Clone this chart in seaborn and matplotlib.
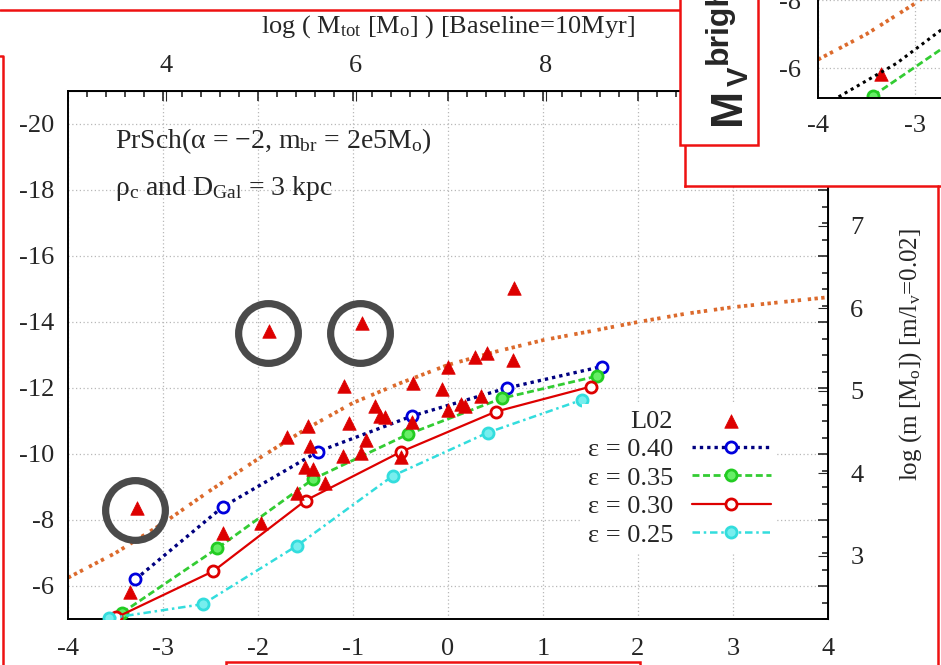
import matplotlib
matplotlib.use("Agg")
import matplotlib.pyplot as plt
import seaborn as sns
import numpy as np
from matplotlib.ticker import MultipleLocator, FixedLocator
from matplotlib.patches import Rectangle
from matplotlib.lines import Line2D

sns.set_style("white")
plt.rcParams['font.family'] = ['Liberation Serif', 'DejaVu Serif']
plt.rcParams['mathtext.fontset'] = 'custom'
plt.rcParams['mathtext.rm'] = 'Liberation Serif'
plt.rcParams['mathtext.it'] = 'Liberation Serif:italic'
plt.rcParams['mathtext.bf'] = 'Liberation Serif:bold'
plt.rcParams['axes.unicode_minus'] = False

# ---------------- data ----------------
eps40_x = [-3.29, -2.37, -1.37, -0.38, 0.62, 1.62]
eps40_y = [-6.20, -8.40, -10.07, -11.15, -12.00, -12.65]
eps35_x = [-3.43, -2.43, -1.42, -0.42, 0.57, 1.57]
eps35_y = [-5.19, -7.14, -9.24, -10.60, -11.69, -12.36]
eps30_x = [-3.49, -2.47, -1.50, -0.50, 0.50, 1.50]
eps30_y = [-5.05, -6.45, -8.59, -10.06, -11.28, -12.04]
eps25_x = [-3.57, -2.58, -1.59, -0.58, 0.42, 1.41]
eps25_y = [-5.02, -5.45, -7.22, -9.34, -10.65, -11.64]

limit_x = [-4.0, -3.5, -3.0, -2.5, -2.0, -1.5, -1.0, -0.5, 0.0, 0.5, 1.0, 1.5, 2.0, 2.5, 3.0, 3.5, 4.0]
limit_y = [-6.25, -7.0, -7.9, -8.9, -9.85, -10.75, -11.55, -12.15, -12.7, -13.1, -13.45,
           -13.72, -14.0, -14.25, -14.45, -14.6, -14.75]

l02_x = [-3.27, -3.35, -2.37, -1.97, -1.69, -1.47, -1.45, -1.51, -1.42, -1.59, -1.29,
         -1.88, -0.91, -1.09, -1.04, -0.77, -0.72, -0.66, -0.86, -1.11, -0.92, -0.37,
         -0.38, -0.49, 0.00, -0.06, 0.00, 0.14, 0.18, 0.28, 0.41, 0.35, 0.69, 0.68]
l02_y = [-8.37, -5.83, -7.60, -7.92, -10.53, -10.85, -10.24, -9.60, -9.54, -8.83, -9.13,
         -13.74, -13.96, -12.07, -10.93, -11.44, -11.15, -11.13, -10.42, -9.94, -10.04, -12.14,
         -10.98, -9.92, -12.63, -11.96, -11.33, -11.53, -11.44, -12.93, -13.05, -11.76, -15.03, -12.85]
circled_x = [-3.29, -1.89, -0.93]
circled_y = [-8.30, -13.66, -13.66]

# inset (partial second chart)
inset_black_x = [-3.85, -3.19, -2.60]
inset_black_y = [-5.05, -6.14, -7.40]

W, H = 941, 665
def fx(px): return px / W
def fy(py): return 1 - py / H

fig = plt.figure(figsize=(W / 100, H / 100), dpi=100)
fig.patch.set_facecolor('white')

FS = 19
ax = fig.add_axes([fx(68), fy(619), (828 - 68) / W, (619 - 91) / H])
ax.set_facecolor('white')

orange = '#dc6a2c'
sns.lineplot(x=limit_x, y=limit_y, ax=ax, color=orange, lw=2.7,
             linestyle=(0, (0.9, 0.9, 0.9, 0.9, 0.9, 1.8)), sort=False, zorder=2)

series = [
    (eps40_x, eps40_y, 'ε = 0.40', '#000080', (0, (1, 1.2)), 'white', '#0000dd', 2.4),
    (eps35_x, eps35_y, 'ε = 0.35', '#33cc33', (0, (2.5, 1.3)), '#66ee66', '#22cc22', 2.0),
    (eps30_x, eps30_y, 'ε = 0.30', '#dd0000', '-', 'white', '#dd0000', 1.6),
    (eps25_x, eps25_y, 'ε = 0.25', '#33dddd', (0, (3, 1.5, 1, 1.5)), '#77eeee', '#33dddd', 1.8),
]
for xs, ys, lab, col, ls, mfc, mec, lw in series:
    sns.lineplot(x=xs, y=ys, ax=ax, color=col, linestyle=ls, lw=lw, sort=False,
                 marker='o', markersize=8, markerfacecolor=mfc, markeredgecolor=mec,
                 markeredgewidth=2, label=lab, zorder=3)

sns.scatterplot(x=l02_x, y=l02_y, ax=ax, marker='^', s=95, color='#dd0000',
                edgecolor='#dd0000', linewidth=0.5, label='L02', zorder=4)

ax.plot(circled_x, circled_y, 'o', ms=43, mfc='none', mec='#4a4a4a', mew=5.2, zorder=5,
        label='_nolegend_')

ax.set_xlim(-4, 4)
ax.set_ylim(-5, -21)
ax.xaxis.set_major_locator(MultipleLocator(1))
ax.xaxis.set_minor_locator(MultipleLocator(0.2))
ax.yaxis.set_major_locator(FixedLocator([-20, -18, -16, -14, -12, -10, -8, -6]))
ax.yaxis.set_minor_locator(MultipleLocator(0.5))
ax.tick_params(which='both', direction='in', top=True, right=True, labelsize=FS, width=1.2)
ax.tick_params(which='major', length=7)
ax.tick_params(which='minor', length=4)
ax.tick_params(axis='x', pad=14)
ax.tick_params(axis='y', pad=10)
ax.grid(True, which='major', linestyle=(0, (1, 2)), color='#b8b8b8', lw=0.9)
for s in ax.spines.values():
    s.set_color('black')
    s.set_linewidth(1.4)
ax.set_xlabel('')
ax.set_ylabel('')

ax.text(-3.505, -19.27, r'PrSch(α = −2, m$_{\rm br}$ = 2e5M$_{\rm o}$)', fontsize=20,
        va='baseline', ha='left')
ax.text(-3.505, -17.85, r'ρ$_{\rm c}$ and D$_{\rm Gal}$ = 3 kpc', fontsize=20,
        va='baseline', ha='left')

secx = ax.secondary_xaxis('top', functions=(lambda x: x + 6.97, lambda t: t - 6.97))
secx.set_xticks([4, 6, 8, 10])
secx.tick_params(direction='in', labelsize=FS, pad=10, length=7)
secx.set_xlabel(r'log ( M$_{\rm tot}$ [M$_{\rm o}$] ) [Baseline=10Myr]', fontsize=FS, labelpad=16)

secy = ax.secondary_yaxis('right', functions=(lambda M: (0.58 - M) / 2.5, lambda l: 0.58 - 2.5 * l))
secy.set_yticks([3, 4, 5, 6, 7, 8])
secy.tick_params(direction='in', labelsize=FS, pad=16, length=7)
secy.set_ylabel(r'log (m [M$_{\rm o}$]) [m/l$_{\rm v}$=0.02]', fontsize=FS - 1, labelpad=24)

handles, labels = ax.get_legend_handles_labels()
order = ['L02', 'ε = 0.40', 'ε = 0.35', 'ε = 0.30', 'ε = 0.25']
hmap = dict(zip(labels, handles))
leg = ax.legend([hmap[k] for k in order], order, loc='upper right',
                bbox_to_anchor=(fx(776), fy(404)), bbox_transform=fig.transFigure,
                markerfirst=False, frameon=True, fancybox=False, framealpha=1,
                edgecolor='none', facecolor='white', fontsize=FS, handlelength=3.0,
                handletextpad=0.7, labelspacing=0.19, borderpad=0.2, borderaxespad=0,
                scatterpoints=1)
leg.set_zorder(6)

# ------------- decorations (slide frames) -------------
red = '#ee1111'
fig.add_artist(Line2D([fx(0), fx(680)], [fy(10), fy(10)], color=red, lw=1.8, zorder=20))
fig.add_artist(Line2D([fx(0), fx(3), fx(3)], [fy(56), fy(56), fy(666)], color=red, lw=1.8, zorder=20))
fig.add_artist(Rectangle((fx(226), fy(700)), (640 - 226) / W, (700 - 662) / H,
                         transform=fig.transFigure, facecolor='white', edgecolor=red,
                         lw=1.8, zorder=20))
fig.add_artist(Line2D([fx(938), fx(938)], [fy(186), fy(666)], color=red, lw=1.8, zorder=20))

# panel with partial second chart
panel = fig.add_axes([fx(685), fy(186), 300 / W, 220 / H], zorder=5)
panel.set_facecolor('white')
panel.set_xticks([])
panel.set_yticks([])
for k in ['top', 'right']:
    panel.spines[k].set_visible(False)
for k in ['left', 'bottom']:
    panel.spines[k].set_color(red)
    panel.spines[k].set_linewidth(1.8)

iax = fig.add_axes([fx(818), fy(98), 200 / W, 150 / H], zorder=6)
iax.patch.set_alpha(0)
sns.lineplot(x=limit_x, y=limit_y, ax=iax, color=orange, lw=2.7,
             linestyle=(0, (0.9, 0.9, 0.9, 0.9, 0.9, 1.8)), sort=False)
sns.lineplot(x=inset_black_x, y=inset_black_y, ax=iax, color='black', lw=2.2,
             linestyle=(0, (1, 1.3)), sort=False)
sns.lineplot(x=eps35_x, y=eps35_y, ax=iax, color='#33cc33', lw=2.0, linestyle=(0, (2.5, 1.3)),
             marker='o', markersize=8, markerfacecolor='#66ee66', markeredgecolor='#22cc22',
             markeredgewidth=2, sort=False)
sns.scatterplot(x=l02_x, y=l02_y, ax=iax, marker='^', s=95, color='#dd0000',
                edgecolor='#dd0000', linewidth=0.5)
iax.set_xlim(-4, -4 + 200 / 97)
iax.set_ylim(-5.12, -5.12 - 150 / 34)
iax.xaxis.set_major_locator(FixedLocator([-4, -3, -2]))
iax.xaxis.set_minor_locator(MultipleLocator(0.2))
iax.yaxis.set_major_locator(FixedLocator([-6, -8]))
iax.yaxis.set_minor_locator(MultipleLocator(0.5))
iax.tick_params(which='both', direction='in', labelsize=FS, width=1.2)
iax.tick_params(which='major', length=7)
iax.tick_params(which='minor', length=4)
iax.tick_params(axis='x', pad=12)
iax.tick_params(axis='y', pad=12)
iax.grid(True, which='major', linestyle=(0, (1, 2)), color='#b8b8b8', lw=0.9)
iax.set_xlabel('')
iax.set_ylabel('')
for k in ['top', 'right']:
    iax.spines[k].set_visible(False)
for k in ['left', 'bottom']:
    iax.spines[k].set_color('black')
    iax.spines[k].set_linewidth(1.4)

fig.add_artist(Rectangle((fx(680), fy(145)), (758 - 680) / W, 200 / H,
                         transform=fig.transFigure, facecolor='white', edgecolor=red,
                         lw=1.8, zorder=30))
sans_bold = dict(family=['Liberation Sans', 'DejaVu Sans'], weight='bold', rotation=90,
                 rotation_mode='anchor', ha='left', va='baseline', zorder=31)
fig.text(fx(740), fy(125), 'M', fontsize=32, **sans_bold)
fig.text(fx(748), fy(86), 'V', fontsize=21, **sans_bold)
fig.text(fx(727), fy(64), 'bright', fontsize=23, **sans_bold)

fig.savefig('out.png', dpi=100)
